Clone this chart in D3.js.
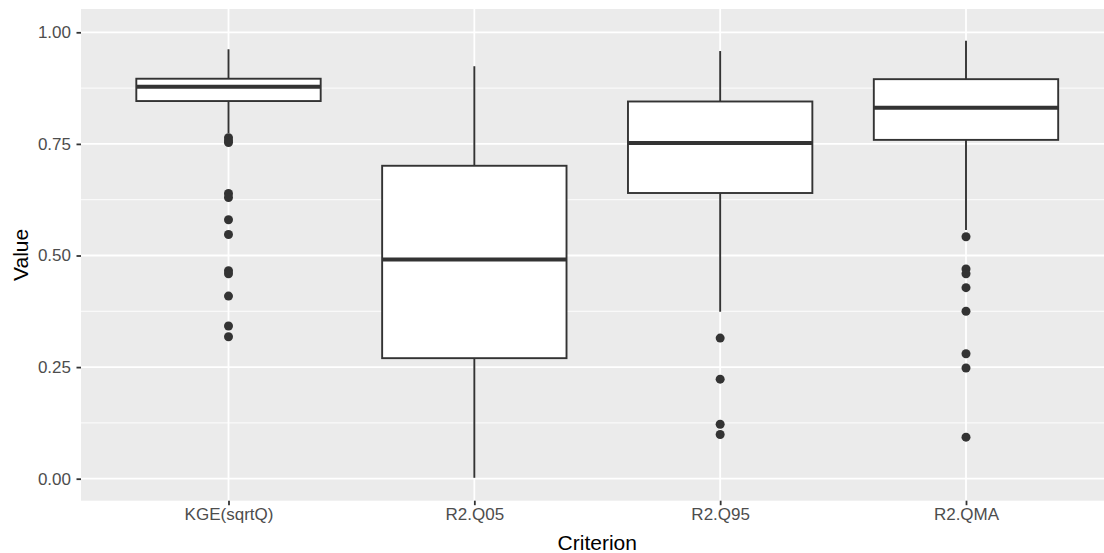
<!DOCTYPE html>
<html>
<head>
<meta charset="utf-8">
<script src="https://cdn.jsdelivr.net/npm/d3@7"></script>
<style>
  body { margin: 0; background: #fff; }
  svg { display: block; font-family: "Liberation Sans", Arial, sans-serif; }
</style>
</head>
<body>
<div id="chart"></div>
<script>
// box plot statistics
const categories = ["KGE(sqrtQ)", "R2.Q05", "R2.Q95", "R2.QMA"];
const whiskerLow  = [0.774, 0.002, 0.374, 0.557];
const lowerQ      = [0.846, 0.270, 0.640, 0.759];
const medians     = [0.878, 0.491, 0.752, 0.831];
const upperQ      = [0.896, 0.701, 0.845, 0.895];
const whiskerHigh = [0.962, 0.924, 0.958, 0.981];
const outliers = [
  [0.764, 0.757, 0.753, 0.639, 0.630, 0.580, 0.547, 0.466, 0.459, 0.409, 0.342, 0.318],
  [],
  [0.315, 0.223, 0.122, 0.099],
  [0.542, 0.470, 0.459, 0.428, 0.375, 0.280, 0.248, 0.093]
];
const yTicks = [0, 0.25, 0.5, 0.75, 1];
const yMinor = [0.125, 0.375, 0.625, 0.875];

// set the dimensions and margins of the graph
const W = 1104, H = 553;
const margin = {top: 9, left: 81},
      width = 1032.5,   // panel runs past the right edge of the picture
      height = 491.7;

const svg = d3.select("#chart")
  .append("svg")
  .attr("width", W)
  .attr("height", H)
  .style("overflow", "hidden");

const g = svg.append("g")
  .attr("transform", `translate(${margin.left}, ${margin.top})`);

const x = d3.scalePoint()
  .domain(categories)
  .range([0, width])
  .padding(0.6);

const y = d3.scaleLinear()
  .domain([-0.0493, 1.0522])
  .range([height, 0]);

const step = x.step();
const boxW = step * 0.75;

// panel background
g.append("rect")
  .attr("width", width)
  .attr("height", height)
  .attr("fill", "#EBEBEB");

// grid lines
g.selectAll(".minor")
  .data(yMinor)
  .join("line")
  .attr("x1", 0).attr("x2", width)
  .attr("y1", d => y(d)).attr("y2", d => y(d))
  .attr("stroke", "#fff")
  .attr("stroke-width", 0.9);

g.selectAll(".major")
  .data(yTicks)
  .join("line")
  .attr("x1", 0).attr("x2", width)
  .attr("y1", d => y(d)).attr("y2", d => y(d))
  .attr("stroke", "#fff")
  .attr("stroke-width", 1.8);

g.selectAll(".vmajor")
  .data(categories)
  .join("line")
  .attr("x1", d => x(d)).attr("x2", d => x(d))
  .attr("y1", 0).attr("y2", height)
  .attr("stroke", "#fff")
  .attr("stroke-width", 1.8);

const data = categories.map((c, i) => ({
  cat: c, lo: whiskerLow[i], q1: lowerQ[i], med: medians[i],
  q3: upperQ[i], hi: whiskerHigh[i], out: outliers[i]
}));

const boxes = g.selectAll(".box")
  .data(data)
  .join("g");

// whiskers
boxes.append("line")
  .attr("x1", d => x(d.cat)).attr("x2", d => x(d.cat))
  .attr("y1", d => y(d.hi)).attr("y2", d => y(d.q3))
  .attr("stroke", "#333").attr("stroke-width", 1.9);
boxes.append("line")
  .attr("x1", d => x(d.cat)).attr("x2", d => x(d.cat))
  .attr("y1", d => y(d.q1)).attr("y2", d => y(d.lo))
  .attr("stroke", "#333").attr("stroke-width", 1.9);

// box
boxes.append("rect")
  .attr("x", d => x(d.cat) - boxW / 2)
  .attr("y", d => y(d.q3))
  .attr("width", boxW)
  .attr("height", d => y(d.q1) - y(d.q3))
  .attr("fill", "#fff")
  .attr("stroke", "#333")
  .attr("stroke-width", 1.9);

// median
boxes.append("line")
  .attr("x1", d => x(d.cat) - boxW / 2).attr("x2", d => x(d.cat) + boxW / 2)
  .attr("y1", d => y(d.med)).attr("y2", d => y(d.med))
  .attr("stroke", "#333").attr("stroke-width", 3.8);

// outliers
boxes.selectAll("circle")
  .data(d => d.out.map(v => ({cat: d.cat, v: v})))
  .join("circle")
  .attr("cx", d => x(d.cat))
  .attr("cy", d => y(d.v))
  .attr("r", 4.5)
  .attr("fill", "#333");

// Y axis
const yAxis = g.append("g")
  .call(d3.axisLeft(y).tickValues(yTicks).tickFormat(d3.format(".2f")).tickSize(4.5).tickPadding(5.5));
yAxis.select(".domain").remove();
yAxis.selectAll(".tick line").attr("stroke", "#333").attr("stroke-width", 1.8);
yAxis.selectAll(".tick text").attr("fill", "#4D4D4D").style("font-size", "17px");

// X axis
const xAxis = g.append("g")
  .attr("transform", `translate(0, ${height})`)
  .call(d3.axisBottom(x).tickSize(4.5).tickPadding(2.5));
xAxis.select(".domain").remove();
xAxis.selectAll(".tick line").attr("stroke", "#333").attr("stroke-width", 1.8);
xAxis.selectAll(".tick text").attr("fill", "#4D4D4D").style("font-size", "17px");

// axis titles
svg.append("text")
  .attr("x", margin.left + width / 2)
  .attr("y", 550)
  .attr("text-anchor", "middle")
  .style("font-size", "21px")
  .attr("fill", "#000")
  .text("Criterion");

svg.append("text")
  .attr("transform", `translate(28, ${margin.top + height / 2}) rotate(-90)`)
  .attr("text-anchor", "middle")
  .style("font-size", "21px")
  .attr("fill", "#000")
  .text("Value");
</script>
</body>
</html>
